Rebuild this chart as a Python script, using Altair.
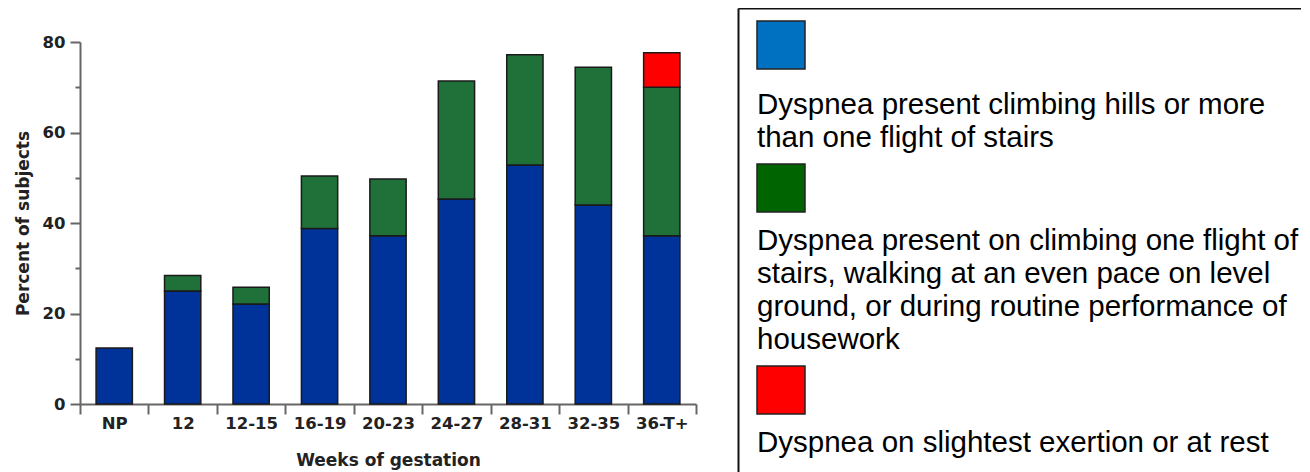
import altair as alt
import pandas as pd

# ---------------- data ----------------
weeks = ["NP", "12", "12-15", "16-19", "20-23", "24-27", "28-31", "32-35", "36-T+"]
hills = [12.4, 25.0, 22.1, 38.8, 37.2, 45.3, 52.8, 44.0, 37.2]
one_flight = [0.0, 3.4, 3.7, 11.6, 12.5, 26.1, 24.4, 30.4, 32.8]
slightest = [0.0, 0.0, 0.0, 0.0, 0.0, 0.0, 0.0, 0.0, 7.6]

series_names = ["Climbing hills", "One flight", "Slightest exertion"]
bar_colors = ["#003399", "#1F7139", "#FF0000"]

legend_colors = ["#0070C0", "#006400", "#FF0000"]
legend_lines = [
    ["Dyspnea present climbing hills or more", "than one flight of stairs"],
    ["Dyspnea present on climbing one flight of",
     "stairs, walking at an even pace on level",
     "ground, or during routine performance of",
     "housework"],
    ["Dyspnea on slightest exertion or at rest"],
]

y_ticks = [0, 10, 20, 30, 40, 50, 60, 70, 80]

# ---------------- bar chart ----------------
rows = []
for s, (name, vals) in enumerate(zip(series_names, [hills, one_flight, slightest])):
    for w, v in zip(weeks, vals):
        if v > 0:
            rows.append({"week": w, "series": name, "value": v, "order": s})
bars_df = pd.DataFrame(rows)

AXIS_GRAY = "#666666"

bars = alt.Chart(bars_df).mark_bar(
    width=alt.RelativeBandSize(0.53), stroke="#1a1a1a", strokeWidth=1.5
).encode(
    x=alt.X(
        "week:N", sort=weeks,
        scale=alt.Scale(paddingInner=0, paddingOuter=0),
        axis=alt.Axis(
            title="Weeks of gestation", tickBand="extent", labelAngle=0,
            tickSize=10, tickWidth=2, tickColor=AXIS_GRAY,
            domainColor=AXIS_GRAY, domainWidth=2,
            labelFontSize=16.5, labelPadding=1, labelColor="#222222",
            titleFontSize=17, titlePadding=21, titleColor="#222222",
        ),
    ),
    y=alt.Y(
        "value:Q", stack="zero",
        scale=alt.Scale(domain=[0, 80], nice=False),
        axis=alt.Axis(
            title="Percent of subjects", values=y_ticks, grid=False,
            labelExpr="datum.value % 20 === 0 ? datum.label : ''",
            tickSize={"condition": {"test": "datum.value % 20 === 0", "value": 10}, "value": 5},
            tickWidth=2, tickColor=AXIS_GRAY,
            domainColor=AXIS_GRAY, domainWidth=2,
            labelFontSize=16.5, labelPadding=5, labelColor="#222222",
            titleFontSize=17, titlePadding=10, titleColor="#222222",
        ),
    ),
    color=alt.Color("series:N", scale=alt.Scale(domain=series_names, range=bar_colors), legend=None),
    order=alt.Order("order:Q"),
).properties(width=616, height=362)

# invisible spacer that pushes the bar panel down below the legend's top border
spacer = alt.Chart(pd.DataFrame({"a": [0]})).mark_point(opacity=0).encode(
    x=alt.X("a:Q", axis=None), y=alt.Y("a:Q", axis=None)
).properties(width=10, height=26)

left = alt.vconcat(spacer, bars, spacing=0)

# ---------------- legend box ----------------
W_LEG, H_LEG = 563, 475
SW = 48                   # swatch size
X0 = 19                   # left inset
FIRST = 13                # first swatch top
GAP_SW_TEXT = [45, 38, 38]  # swatch bottom -> first baseline, per entry
LH = 33                   # line height
GAP_TEXT_SW = 17          # last baseline -> next swatch top

sw_rows, txt_rows = [], []
top = FIRST
for color, lines, gap in zip(legend_colors, legend_lines, GAP_SW_TEXT):
    sw_rows.append({"x": X0, "x2": X0 + SW, "y": top, "y2": top + SW, "color": color})
    b = top + SW + gap
    for ln in lines:
        txt_rows.append({"x": X0, "y": b, "text": ln})
        b += LH
    top = b - LH + GAP_TEXT_SW

xs = alt.Scale(domain=[0, W_LEG], nice=False, zero=True)
ys = alt.Scale(domain=[0, H_LEG], nice=False, zero=True, reverse=True)

swatches = alt.Chart(pd.DataFrame(sw_rows)).mark_rect(stroke="#222222", strokeWidth=1.5).encode(
    x=alt.X("x:Q", scale=xs, axis=alt.Axis(orient="top", labels=False, ticks=False, grid=False,
                                           title=None, domainColor="#111111", domainWidth=2)),
    x2="x2:Q",
    y=alt.Y("y:Q", scale=ys, axis=alt.Axis(orient="left", labels=False, ticks=False, grid=False,
                                           title=None, domainColor="#111111", domainWidth=2)),
    y2="y2:Q",
    color=alt.Color("color:N", scale=None),
)

texts = alt.Chart(pd.DataFrame(txt_rows)).mark_text(
    align="left", baseline="alphabetic", font="Liberation Sans", fontSize=29.5, color="#000000"
).encode(
    x=alt.X("x:Q", scale=xs),
    y=alt.Y("y:Q", scale=ys),
    text="text:N",
)

legend_box = alt.layer(swatches, texts).properties(width=W_LEG, height=H_LEG)

chart = alt.hconcat(left, legend_box, spacing=41).configure_view(stroke=None).configure_axis(
    labelFont="DejaVu Sans", labelFontWeight="bold",
    titleFont="DejaVu Sans", titleFontWeight="bold",
).properties(padding={"left": 6, "top": 0, "right": 0, "bottom": 0})

chart.save("out.html", embed_options={"renderer": "svg", "actions": False})
